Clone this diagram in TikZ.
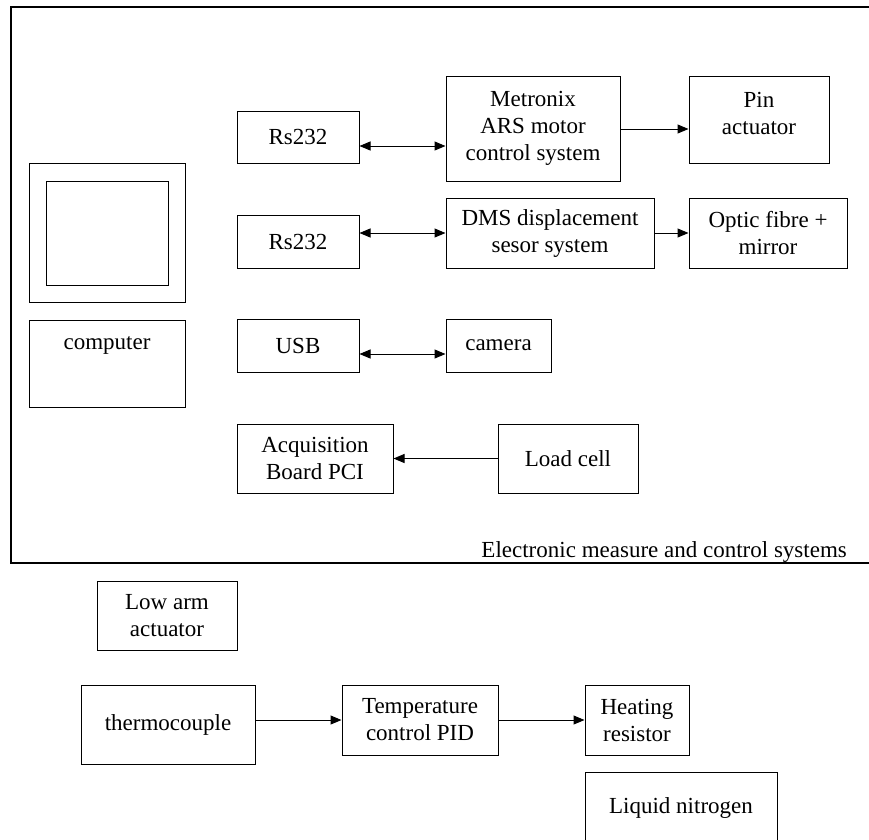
\documentclass[tikz,border=0pt]{standalone}
\usepackage{fontspec}
\setmainfont{Liberation Serif}
\usetikzlibrary{arrows.meta}
\begin{document}
\begin{tikzpicture}[x=1pt,y=-1pt,
  box/.style={draw, line width=1pt, inner sep=0pt, align=center,
    font=\fontsize{23}{27}\selectfont},
  plain/.style={inner sep=0pt, font=\fontsize{23}{27}\selectfont},
  onearrow/.style={line width=1pt, -{Triangle[length=11pt,width=9pt]}},
  biarrow/.style={line width=1pt, {Triangle[length=11pt,width=9pt]}-{Triangle[length=11pt,width=9pt]}}]
\useasboundingbox (0,0) rectangle (869,839);
% frame
\draw[line width=1.1pt] (880,7) -- (11,7) -- (11,563) -- (880,563);
\node[plain, anchor=base east] (frametitle) at (847,557) {Electronic measure and control systems};
% monitor and computer
\node[box, minimum width=156pt, minimum height=139pt] (mono) at (107,232.5) {};
\node[box, minimum width=122pt, minimum height=104pt] (moni) at (107,233) {};
\node[box, anchor=north, minimum width=156pt, text height=29pt, text depth=58pt] (comp) at (107,320) {computer};
% row 1
\node[box, minimum width=122pt, minimum height=52pt] (r1) at (298,137) {Rs232};
\node[box, minimum width=174pt, minimum height=105pt] (met) at (533,128.5) {Metronix\\ARS motor\\control system};
\node[box, minimum width=140pt, minimum height=87pt] (pin) at (759,119.5) {Pin\\actuator\\[-14pt]};
% row 2
\node[box, minimum width=122pt, minimum height=53pt] (r2) at (298,241.5) {Rs232};
\node[box, minimum width=208pt, minimum height=70pt] (dms) at (550,233) {DMS displacement\\sesor system};
\node[box, minimum width=158pt, minimum height=70pt] (opt) at (768,233) {Optic fibre +\\mirror};
% row 3
\node[box, minimum width=122pt, minimum height=53pt] (usb) at (298,345.5) {USB};
\node[box, minimum width=105pt, minimum height=53pt] (cam) at (498.5,345.5) {camera};
% row 4
\node[box, minimum width=156pt, minimum height=69pt] (acq) at (315,458.5) {Acquisition\\Board PCI};
\node[box, minimum width=140pt, minimum height=69pt] (load) at (568,458.5) {Load cell};
% outside
\node[box, minimum width=140pt, minimum height=69pt] (low) at (167,615.5) {Low arm\\actuator};
\node[box, minimum width=174pt, minimum height=79pt] (thermo) at (168,724.5) {thermocouple};
\node[box, minimum width=156pt, minimum height=70pt] (temp) at (420,720) {Temperature\\control PID};
\node[box, minimum width=104pt, minimum height=70pt] (heat) at (637,720) {Heating\\resistor};
\node[box, minimum width=192pt, minimum height=72pt] (liq) at (681,808) {Liquid nitrogen};
% connectors
\draw[biarrow] (r1.east |- 0,146) -- (met.west |- 0,146);
\draw[onearrow] (met.east |- 0,129) -- (pin.west |- 0,129);
\draw[biarrow] (r2.east |- dms.west) -- (dms.west);
\draw[onearrow] (dms.east) -- (opt.west);
\draw[biarrow] (usb.east |- 0,354) -- (cam.west |- 0,354);
\draw[onearrow] (load.west) -- (acq.east |- load.west);
\draw[onearrow] (thermo.east |- temp.west) -- (temp.west);
\draw[onearrow] (temp.east) -- (heat.west);
\end{tikzpicture}
\end{document}
